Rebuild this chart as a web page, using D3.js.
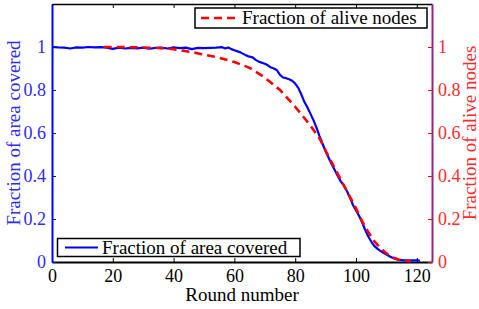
<!DOCTYPE html>
<html>
<head>
<meta charset="utf-8">
<script src="https://cdn.jsdelivr.net/npm/d3@7"></script>
<style>
  body { margin: 0; background: #fff; }
</style>
</head>
<body>
<svg id="chart"></svg>
<script>
// area covered (solid blue, left axis)
const areaRounds = [0, 2, 4, 6, 8, 10, 12, 14, 16, 18, 20, 22, 24, 26, 28, 30, 32, 34, 36, 38, 40, 42, 44, 46, 48, 50, 52, 54, 56, 57, 58, 59, 60, 62, 64, 65, 66, 67, 68, 70, 71, 72, 73, 74, 75, 76, 77, 78, 79, 80, 81, 82, 83, 84, 85, 86, 87, 88, 89, 90, 91, 92, 93, 94, 95, 96, 97, 98, 99, 100, 101, 102, 103, 104, 105, 106, 107, 108, 109, 110, 111, 112, 113, 114, 116, 118, 120, 121];
const areaCovered = [1.0, 0.998, 0.997, 0.993, 0.998, 0.997, 1.0, 0.998, 0.999, 0.997, 0.991, 0.997, 0.993, 0.996, 0.994, 0.997, 0.992, 0.996, 0.997, 0.993, 0.998, 0.995, 0.997, 0.990, 0.996, 0.995, 0.996, 0.997, 0.999, 0.993, 0.998, 0.99, 0.985, 0.975, 0.96, 0.955, 0.952, 0.94, 0.932, 0.922, 0.915, 0.905, 0.9, 0.892, 0.87, 0.858, 0.855, 0.85, 0.843, 0.83, 0.81, 0.78, 0.745, 0.72, 0.69, 0.66, 0.625, 0.585, 0.55, 0.515, 0.485, 0.455, 0.428, 0.40, 0.375, 0.355, 0.33, 0.30, 0.265, 0.24, 0.215, 0.185, 0.15, 0.12, 0.095, 0.075, 0.062, 0.052, 0.043, 0.035, 0.027, 0.02, 0.014, 0.01, 0.008, 0.008, 0.008, 0.006];

// alive nodes (dashed red, right axis)
const aliveRounds = [17, 20, 25, 30, 35, 40, 43, 46, 50, 55, 60, 65, 70, 75, 80, 85, 88, 91, 94, 97, 100, 102, 104, 106, 108, 110, 112, 114, 116, 118];
const aliveNodes = [1.0, 1.0, 0.999, 0.998, 0.995, 0.99, 0.983, 0.976, 0.965, 0.95, 0.93, 0.903, 0.858, 0.8, 0.722, 0.635, 0.575, 0.49, 0.41, 0.33, 0.25, 0.19, 0.14, 0.097, 0.065, 0.04, 0.022, 0.012, 0.006, 0.002];

const xTicks = [0, 20, 40, 60, 80, 100, 120];
const yTicks = [0, 0.2, 0.4, 0.6, 0.8, 1];

const width = 479, height = 309;
const margin = { top: 4, right: 47, bottom: 47, left: 52 };
const font = "Liberation Serif";
const fs = 18, ls = 19;
const blue = "#0000ff", blueText = "#2b2bff", red = "#ff0000", redText = "#ff2b2b", purple = "#992288";

const svg = d3.select("#chart").attr("width", width).attr("height", height);

const x = d3.scaleLinear().domain([0, 125]).range([margin.left, width - margin.right]);
const y = d3.scaleLinear().domain([0, 1.2]).range([height - margin.bottom, margin.top]);
const y2 = d3.scaleLinear().domain([0, 1.2]).range([height - margin.bottom, margin.top]);

const fmt = d => d === 0 || d === 1 ? String(d) : d3.format(".1f")(d);

// bottom axis
const gx = svg.append("g")
    .attr("transform", `translate(0,${y(0)})`)
    .call(d3.axisBottom(x).tickValues(xTicks).tickSizeInner(-4).tickSizeOuter(0).tickPadding(7));
gx.select(".domain").attr("stroke", "#000").attr("stroke-width", 2);
gx.attr("font-family", font).attr("font-size", fs);
gx.selectAll("text").attr("fill", "#000");

// top axis
const gxt = svg.append("g")
    .attr("transform", `translate(0,${y(1.2)})`)
    .call(d3.axisTop(x).tickValues(xTicks).tickSizeInner(-4).tickSizeOuter(0).tickFormat(""));
gxt.select(".domain").attr("stroke", "#000").attr("stroke-width", 1.5);

// left axis
const gy = svg.append("g")
    .attr("transform", `translate(${x(0)},0)`)
    .call(d3.axisLeft(y).tickValues(yTicks).tickFormat(fmt).tickSizeInner(-4).tickSizeOuter(0).tickPadding(6));
gy.select(".domain").attr("stroke", blue).attr("stroke-width", 2);
gy.selectAll(".tick line").attr("stroke", blue);
gy.attr("font-family", font).attr("font-size", fs);
gy.selectAll("text").attr("fill", blueText);

// right axis
const gy2 = svg.append("g")
    .attr("transform", `translate(${x(125)},0)`)
    .call(d3.axisRight(y2).tickValues(yTicks).tickFormat(fmt).tickSizeInner(-4).tickSizeOuter(0).tickPadding(6));
gy2.select(".domain").attr("stroke", purple).attr("stroke-width", 2);
gy2.selectAll(".tick line").attr("stroke", red);
gy2.attr("font-family", font).attr("font-size", fs);
gy2.selectAll("text").attr("fill", redText);

// lines
const areaLine = d3.line().x((d, i) => x(areaRounds[i])).y(d => y(d));
svg.append("path")
    .attr("d", areaLine(areaCovered))
    .attr("fill", "none").attr("stroke", blue).attr("stroke-width", 2.2)
    .attr("stroke-linejoin", "round");

const aliveLine = d3.line().x((d, i) => x(aliveRounds[i])).y(d => y2(d));
svg.append("path")
    .attr("d", aliveLine(aliveNodes))
    .attr("fill", "none").attr("stroke", red).attr("stroke-width", 2.6)
    .attr("stroke-dasharray", "8,5");

// axis titles
svg.append("text")
    .attr("x", x(62.5)).attr("y", 301)
    .attr("text-anchor", "middle").attr("font-family", font).attr("font-size", ls).attr("fill", "#000")
    .text("Round number");

svg.append("text")
    .attr("transform", `translate(20,${y(0.6)}) rotate(-90)`)
    .attr("text-anchor", "middle").attr("font-family", font).attr("font-size", ls).attr("fill", blueText)
    .text("Fraction of area covered");

svg.append("text")
    .attr("transform", `translate(476,${y(0.6)}) rotate(-90)`)
    .attr("text-anchor", "middle").attr("font-family", font).attr("font-size", ls).attr("fill", redText)
    .text("Fraction of alive nodes");

// legends
const topLegend = svg.append("g");
topLegend.append("rect")
    .attr("x", 195).attr("y", 8).attr("width", 232).attr("height", 20)
    .attr("fill", "#fff").attr("stroke", "#000").attr("stroke-width", 1.5);
topLegend.append("line")
    .attr("x1", 201).attr("x2", 238).attr("y1", 18).attr("y2", 18)
    .attr("stroke", red).attr("stroke-width", 2.6).attr("stroke-dasharray", "8,5");
topLegend.append("text")
    .attr("x", 242).attr("y", 24).attr("font-family", font).attr("font-size", ls).attr("fill", "#000")
    .text("Fraction of alive nodes");

const botLegend = svg.append("g");
botLegend.append("rect")
    .attr("x", 57.5).attr("y", 238.5).attr("width", 242.5).attr("height", 18)
    .attr("fill", "#fff").attr("stroke", "#000").attr("stroke-width", 1.5);
botLegend.append("line")
    .attr("x1", 65).attr("x2", 98).attr("y1", 247.5).attr("y2", 247.5)
    .attr("stroke", blue).attr("stroke-width", 2.2);
botLegend.append("text")
    .attr("x", 102).attr("y", 253.5).attr("font-family", font).attr("font-size", ls).attr("fill", "#000")
    .text("Fraction of area covered");
</script>
</body>
</html>
